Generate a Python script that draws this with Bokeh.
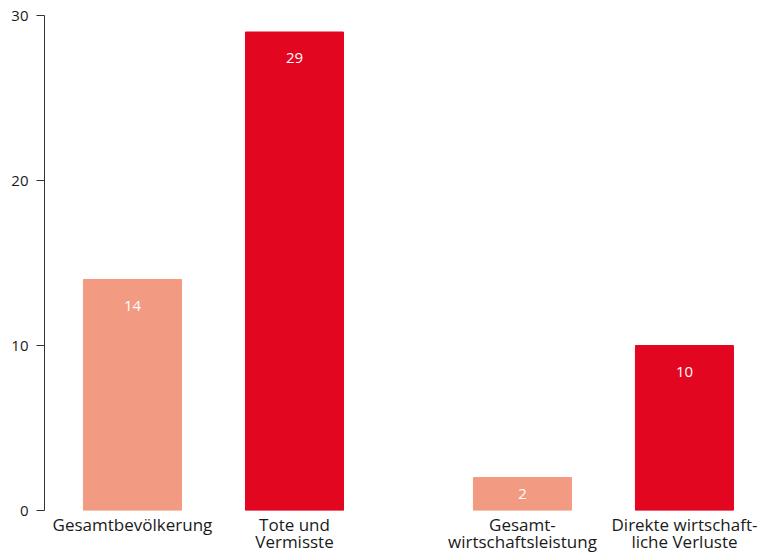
from bokeh.plotting import figure
from bokeh.models import ColumnDataSource, Range1d, FixedTicker
from bokeh.core.properties import value
from bokeh.embed import file_html
from bokeh.resources import INLINE

categories = ["Gesamtbevölkerung", "Tote und\nVermisste", "Gesamt-\nwirtschaftsleistung", "Direkte wirtschaft-\nliche Verluste"]
values = [14, 29, 2, 10]
colors = ["#F39B82", "#E20620", "#F39B82", "#E20620"]
y_ticks = [0, 10, 20, 30]

group_gap = 0.407
xs = [i + (group_gap if i >= 2 else 0) for i in range(len(categories))]
label_y = [max(v - 1.58, v / 2) for v in values]

src = ColumnDataSource(dict(x=xs, top=values, color=colors, ly=label_y,
                            label=[str(v) for v in values]))

p = figure(frame_width=714, frame_height=495, output_backend="svg", toolbar_location=None,
           x_range=Range1d(-0.543, 3.864), y_range=Range1d(0, 30),
           min_border_left=44, min_border_right=0, min_border_top=15, min_border_bottom=0)
p.outline_line_color = None
p.xgrid.grid_line_color = None
p.ygrid.grid_line_color = None

p.vbar(x="x", top="top", bottom=0, width=0.605, color="color", source=src)
p.text(x="x", y="ly", text="label", source=src,
       text_align="center", text_baseline="middle", text_color="white",
       text_font=value("Open Sans"), text_font_size="15px")

p.xaxis.ticker = FixedTicker(ticks=xs)
p.xaxis.major_label_overrides = {x: c for x, c in zip(xs, categories)}
p.xaxis.axis_line_color = None
p.xaxis.major_tick_line_color = None
p.xaxis.minor_tick_line_color = None
p.xaxis.major_label_standoff = -4
p.xaxis.major_label_text_font = "Open Sans"
p.xaxis.major_label_text_font_size = "17px"
p.xaxis.major_label_text_line_height = 0.77
p.xaxis.major_label_text_color = "#1a1a1a"

p.yaxis.ticker = FixedTicker(ticks=y_ticks)
p.yaxis.axis_line_color = "#333333"
p.yaxis.major_tick_line_color = "#333333"
p.yaxis.major_tick_in = 0
p.yaxis.major_tick_out = 8
p.yaxis.minor_tick_line_color = None
p.yaxis.major_label_standoff = 8
p.yaxis.major_label_text_font = "Open Sans"
p.yaxis.major_label_text_font_size = "15px"
p.yaxis.major_label_text_color = "#1a1a1a"

open("out.html", "w").write(file_html(p, INLINE))
